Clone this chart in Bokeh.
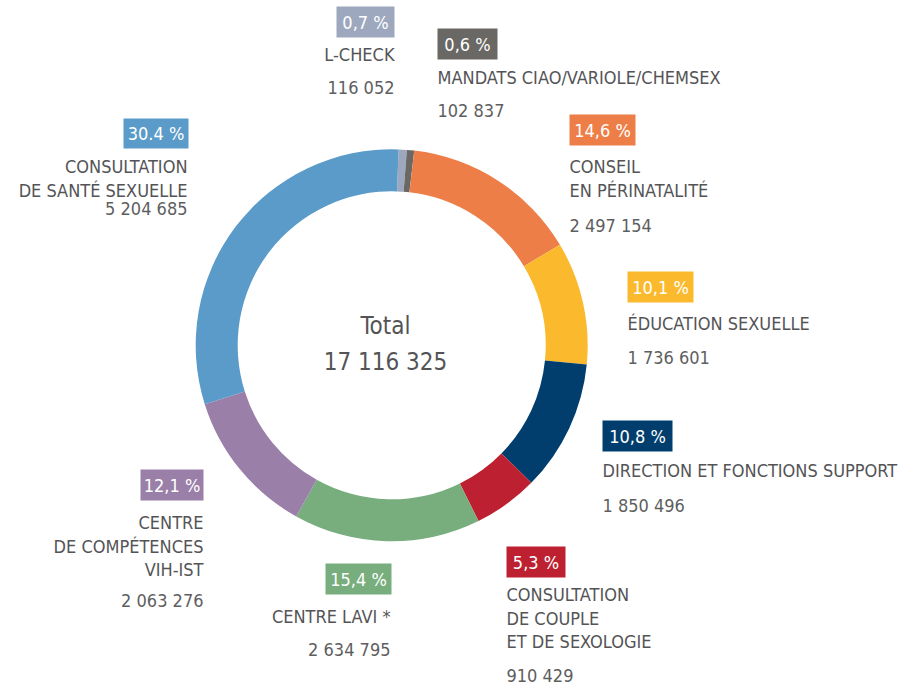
import math
from bokeh.plotting import figure
from bokeh.models import Range1d, ColumnDataSource
from bokeh.core.properties import value
from bokeh.embed import file_html
from bokeh.resources import INLINE

# ---- data (clockwise from 12 o'clock) ----
categories = [
    "L-CHECK",
    "MANDATS CIAO/VARIOLE/CHEMSEX",
    "CONSEIL\nEN PÉRINATALITÉ",
    "ÉDUCATION SEXUELLE",
    "DIRECTION ET FONCTIONS SUPPORT",
    "CONSULTATION\nDE COUPLE\nET DE SEXOLOGIE",
    "CENTRE LAVI *",
    "CENTRE\nDE COMPÉTENCES\nVIH-IST",
    "CONSULTATION\nDE SANTÉ SEXUELLE",
]
values = [116052, 102837, 2497154, 1736601, 1850496, 910429, 2634795, 2063276, 5204685]
pct_labels = ["0,7 %", "0,6 %", "14,6 %", "10,1 %", "10,8 %", "5,3 %", "15,4 %", "12,1 %", "30.4 %"]
colors = ["#9DA8BE", "#6A6865", "#EE7E47", "#FBBA2E", "#023E6D", "#BD2131", "#78AE7D", "#9A80A8", "#5B9BC9"]

# ---- layout (image pixel coordinates) ----
# box x0, x1, y0, y1, anchor x, align, first label baseline, number baseline
label_layout = [
    (336, 394, 6, 37, 394, "right", 61, 94),
    (437, 497, 28, 59, 437, "left", 84, 117),
    (569, 635, 114, 145, 569, "left", 173, 232),
    (627, 693, 271, 302, 627, "left", 330, 364),
    (602, 672, 420, 451, 602, "left", 477, 512),
    (506, 565, 546, 577, 506, "left", 601, 682),
    (325, 391, 563, 594, 390, "right", 623, 656),
    (140, 203, 469, 500, 203, "right", 529, 607),
    (123, 188, 118, 148, 187, "right", 173, 215),
]
LINE_STEP = 23.5
W, H = 904, 689
FONT = "DejaVu Sans Condensed"
FS = 18
CFS = 24
TEXT_GREY = "#545456"
NUM_GREY = "#5E5E60"

def X(x):
    return x

def Y(y):
    return H - y

def TY(baseline, size):
    # text anchor so that the alphabetic baseline lands at `baseline`
    return Y(baseline - 0.38 * size)

p = figure(width=W, height=H, output_backend="svg", toolbar_location=None,
           x_range=Range1d(0, W), y_range=Range1d(0, H),
           x_axis_type=None, y_axis_type=None, min_border=0)
p.outline_line_color = None
p.grid.visible = False
p.background_fill_color = "white"

# ---- donut ----
total = sum(values)
theta0 = math.radians(2.0)
starts, ends = [], []
cum = 0.0
for v in values:
    a0 = math.pi / 2 - theta0 - 2 * math.pi * cum / total
    cum += v
    a1 = math.pi / 2 - theta0 - 2 * math.pi * cum / total
    starts.append(a0)
    ends.append(a1)

src = ColumnDataSource(dict(start=starts, end=ends, color=colors))
cx, cy = X(391.2), Y(344.8)
p.annular_wedge(x=cx, y=cy, inner_radius=154, outer_radius=196,
                start_angle="start", end_angle="end", direction="clock",
                fill_color="color", line_color=None, source=src)

# ---- center text ----
p.text(x=[X(385)], y=[TY(335, CFS)], text=["Total"], text_align="center",
       text_baseline="alphabetic", text_font=value(FONT), text_font_size=f"{CFS}px",
       text_color=TEXT_GREY)
p.text(x=[X(385)], y=[TY(371, CFS)], text=["{:,}".format(total).replace(",", " ")],
       text_align="center", text_baseline="alphabetic", text_font=value(FONT),
       text_font_size=f"{CFS}px", text_color=TEXT_GREY)

# ---- labels ----
for cat, v, pl, col, lay in zip(categories, values, pct_labels, colors, label_layout):
    bx0, bx1, by0, by1, ax, align, fb, nb = lay
    p.quad(left=[X(bx0)], right=[X(bx1)], top=[Y(by0)], bottom=[Y(by1)],
           fill_color=col, line_color=None)
    p.text(x=[X((bx0 + bx1) / 2)], y=[TY((by0 + by1) / 2 + 7, FS)], text=[pl],
           text_align="center", text_baseline="alphabetic", text_font=value(FONT),
           text_font_size=f"{FS}px", text_color="white")
    for i, line in enumerate(cat.split("\n")):
        p.text(x=[X(ax)], y=[TY(fb + i * LINE_STEP, FS)], text=[line], text_align=align,
               text_baseline="alphabetic", text_font=value(FONT),
               text_font_size=f"{FS}px", text_color=TEXT_GREY)
    p.text(x=[X(ax)], y=[TY(nb, FS)], text=["{:,}".format(v).replace(",", " ")],
           text_align=align, text_baseline="alphabetic", text_font=value(FONT),
           text_font_size=f"{FS}px", text_color=NUM_GREY)

open("out.html", "w").write(file_html(p, INLINE))
